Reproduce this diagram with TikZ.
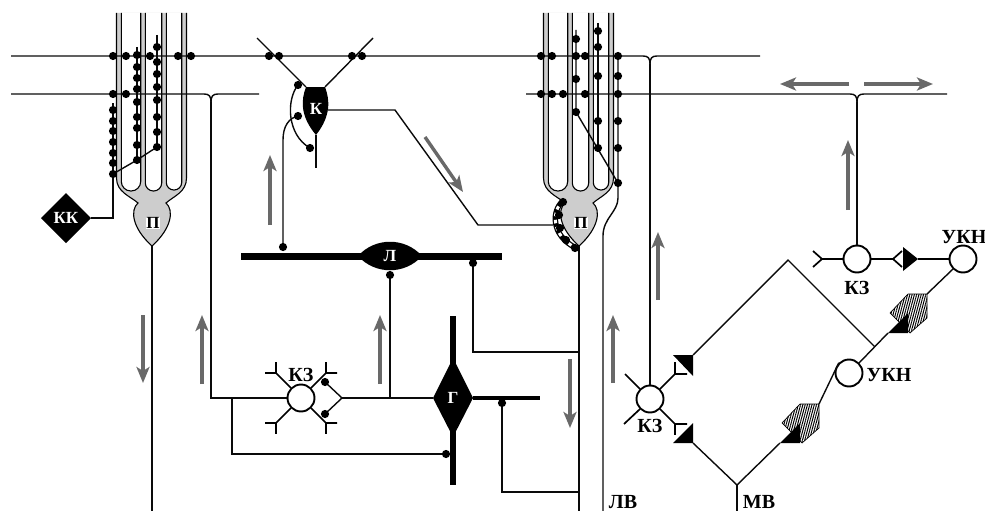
\documentclass[tikz,border=0pt]{standalone}
\usepackage{fontspec}
\setmainfont{Liberation Serif}
\usetikzlibrary{arrows.meta,patterns.meta,shapes.geometric}
\definecolor{ag}{RGB}{105,105,105}
\definecolor{pg}{RGB}{205,205,205}
\definecolor{lc}{RGB}{10,10,10}
\newcommand\purkinjecell[1]{%
\begin{scope}[shift={(#1,0)}]
 \filldraw[fill=pg,draw=black,line width=1.1pt] (-35.5,13) -- (-35.5,178) .. controls (-35.5,192) and (-22,196) .. (-14,203) .. controls (-22,210) and (-20,228) .. (0,246) .. controls (20,228) and (22,210) .. (14,203) .. controls (22,196) and (34.5,192) .. (34.5,178) -- (34.5,13);
 \filldraw[fill=white,draw=black,line width=1.1pt,rounded corners=9.5pt] (-30.7,13) -- (-30.7,191) -- (-11.3,191) -- (-11.3,13);
 \filldraw[fill=white,draw=black,line width=1.1pt,rounded corners=8pt] (-6.7,13) -- (-6.7,191) -- (9.7,191) -- (9.7,13);
 \filldraw[fill=white,draw=black,line width=1.1pt,rounded corners=7.5pt] (14.3,13) -- (14.3,190) -- (29.7,190) -- (29.7,13);
\end{scope}}
\begin{document}
\begin{tikzpicture}[x=1pt,y=-1pt,
 ln/.style={draw=lc,line width=1.4pt},
 ga/.style={draw=ag,line width=3.4pt,-{Stealth[length=16pt,width=13pt,inset=4pt]}},
 dend/.style={draw=black,line width=1.7pt},
 kzc/.style={circle,draw=black,line width=1.9pt,fill=white,minimum size=27pt,inner sep=0pt},
 lab/.style={font=\fontsize{20}{20}\selectfont\bfseries,inner sep=0pt},
 wlab/.style={font=\fontsize{17}{17}\selectfont\bfseries,text=white,inner sep=0pt},
 plab/.style={font=\fontsize{17}{17}\selectfont\bfseries,fill=white,inner sep=0.6pt},
 hatch/.style={pattern={Lines[angle=75,distance=2.2pt,line width=1pt]}}
]
\useasboundingbox (0,0) rectangle (985,511);

% Purkinje cells
\purkinjecell{152}
\purkinjecell{579}

% parallel fibres
\draw[ln] (11,56) -- (643,56) .. controls (648,56) and (650,58) .. (650,64);
\draw[ln] (760,56) -- (657,56) .. controls (652,56) and (650,58) .. (650,64);
\draw[ln] (11,94) -- (204,94) .. controls (209,94) and (211,96) .. (211,102);
\draw[ln] (259,94) -- (218,94) .. controls (213,94) and (211,96) .. (211,102);
\draw[ln] (526,94) -- (850,94) .. controls (855,94) and (857,96) .. (857,102);
\draw[ln] (947,94) -- (864,94) .. controls (859,94) and (857,96) .. (857,102);

% left climbing fibre and KK
\draw[ln] (113,103) -- (113,218) -- (91,218);
\draw[ln] (113,174) -- (137,160) -- (157,147);
\draw[ln] (137,47) -- (137,160);
\draw[ln] (157,35) -- (157,147);
\fill (66,193) -- (91,218) -- (66,243) -- (41,218) -- cycle;
\node[wlab] (kk) at (66,218) {КК};

% axons of Purkinje cells
\draw[ln] (152,246) -- (152,511);
\draw[ln] (579,246) -- (579,511);

% K cell
\draw[ln] (306,87) -- (257,38);
\draw[ln] (325,87) -- (373,38);
\draw[ln] (316,135) -- (316,168);
\draw[ln] (298,85) .. controls (286,100) and (287,135) .. (310,148);
\draw[ln] (298,116) .. controls (289,118) and (283,126) .. (283,140) -- (283,247);
\draw[ln] (328,110) -- (395,110) -- (478,225) -- (553,225);
\fill (306,87) -- (325,87) .. controls (330,100) and (331,116) .. (316,135) .. controls (300,116) and (301,100) .. (306,87) -- cycle;
\node[wlab] (k) at (316,109) {К};

% right climbing fibre
\draw[ln] (618,56) -- (618,198) .. controls (618,212) and (603,218) .. (603,236) -- (603,511);
\draw[ln] (576,30) -- (576,112) -- (618,183);
\draw[ln] (598,23) -- (598,148);

% basket around right soma
\draw[line width=5.5pt] (563,201) .. controls (552,210) and (550,235) .. (576,248);
\draw[line width=3pt,white,dash pattern=on 3.5pt off 3.5pt] (563,201) .. controls (552,210) and (550,235) .. (576,248);

\node[plab] (p1) at (153,223) {П};
\node[plab] (p2) at (581,223) {П};

% L cell
\draw[line width=7pt] (241,256) -- (502,256);
\fill (358,256) .. controls (375,237) and (405,237) .. (422,256) .. controls (405,275) and (375,275) .. (358,256) -- cycle;
\node[wlab] (l) at (390,256) {Л};
\draw[ln] (390,275) -- (390,398);
\draw[ln] (473,263) -- (473,352) -- (579,352);

% G cell
\draw[line width=6pt] (453,316) -- (453,485);
\draw[line width=3.2pt] (473,398) -- (540,398);
\fill (453,358) -- (473,398) -- (453,437) -- (433,398) -- cycle;
\node[wlab] (g) at (453,398) {Г};
\draw[ln] (502,403) -- (502,492) -- (579,492);

% left granule cell
\node[kzc] (kz1) at (301,398) {};
\node[lab] at (301,375) {КЗ};
\draw[ln] (211,102) -- (211,398) -- (kz1.west);
\draw[ln] (232,398) -- (232,454) -- (446,454);
\draw[ln] (325,382) -- (342,398) -- (325,414);
\draw[ln] (342,398) -- (433,398);
\draw[dend] (kz1.135) -- (276,373) -- (265,373); \draw[dend] (276,373) -- (276,362);
\draw[dend] (kz1.45) -- (326,373) -- (337,373); \draw[dend] (326,373) -- (326,362);
\draw[dend] (kz1.225) -- (276,423) -- (265,423); \draw[dend] (276,423) -- (276,434);
\draw[dend] (kz1.315) -- (326,423) -- (337,423); \draw[dend] (326,423) -- (326,434);

% right lower granule cell
\node[kzc] (kz2) at (650,399) {};
\node[lab] at (650,426) {КЗ};
\draw[ln] (650,64) -- (kz2.north);
\draw[dend] (kz2.135) -- (625,374);
\draw[dend] (kz2.225) -- (624,424);
\draw[dend] (kz2.45) -- (675,374) -- (687,374); \draw[dend] (675,374) -- (675,362);
\draw[dend] (kz2.315) -- (675,424) -- (687,424); \draw[dend] (675,424) -- (675,435);
\fill (673,355) -- (693,355) -- (693,376) -- cycle;
\fill (673,443) -- (693,423) -- (693,443) -- cycle;

% mossy fibre net
\coordinate (apex) at (788,260);
\coordinate (mv) at (737,485);
\node[kzc] (ukn2) at (849,373) {};
\node[kzc] (ukn1) at (963,259) {};
\node[kzc] (kz3) at (857,259) {};
\draw[ln] (693,355) -- (apex) -- (875,347);
\draw[ln] (693,443) -- (mv) -- (780,443);
\draw[ln] (mv) -- (737,511);
\draw[ln] (819,404) -- (ukn2.135);
\draw[ln] (ukn2.45) -- (888,333);
\draw[ln] (927,294) -- (ukn1.225);
\filldraw[hatch,draw=black,line width=0.7pt] (782,423) -- (800,404) -- (819,404) -- (819,428) -- (802,443) -- cycle;
\fill (780,443) -- (800,443) -- (800,423) -- cycle;
\filldraw[hatch,draw=black,line width=0.7pt] (890,313) -- (908,294) -- (927,294) -- (927,318) -- (910,333) -- cycle;
\fill (888,333) -- (908,333) -- (908,313) -- cycle;
\node[lab] at (889,375) {УКН};
\node[lab] at (964,237) {УКН};

% right upper granule cell
\node[lab] at (857,288) {КЗ};
\draw[ln] (857,102) -- (kz3.north);
\draw[dend] (813,251) -- (822,259) -- (813,267);
\draw[dend] (822,259) -- (kz3.west);
\draw[dend] (kz3.east) -- (893,259);
\draw[dend] (902,251) -- (893,259) -- (902,267);
\fill (903,247) -- (903,271) -- (918,259) -- cycle;
\draw[dend] (918,259) -- (ukn1.west);

\node[lab] (lv) at (623,502) {ЛВ};
\node[lab] (mvl) at (759,502) {МВ};

% dots
\foreach \p in {(113,56),(126,56),(150,56),(178,56),(191,56),(113,94),(126,94),
 (113,110),(113,121),(113,131),(113,142),(113,153),(113,163),(113,174),
 (137,55),(137,67),(137,78),(137,89),(137,102),(137,117),(137,128),(137,145),(137,160),
 (157,47),(157,62),(157,74),(157,87),(157,100),(157,117),(157,132),(157,147),
 (541,56),(552,56),(576,56),(585,56),(618,56),(541,94),(552,94),(563,94),(585,94),(618,94),
 (576,39),(576,79),(576,112),(598,31),(598,47),(598,76),(598,121),(598,148),
 (618,76),(618,121),(618,148),(618,183),
 (563,202),(559,215),(560,228),(566,240),(575,248),
 (269,56),(279,56),(352,56),(362,56),(298,85),(298,116),(310,148),(283,247),
 (390,275),(473,263),(502,403),(446,454),(325,382),(325,414)}
 \fill \p circle (4.1);

% gray arrows
\draw[ga] (143,315) -- (143,383);
\draw[ga] (202,384) -- (202,315);
\draw[ga] (270,225) -- (270,155);
\draw[ga] (380,384) -- (380,315);
\draw[ga] (425,137) -- (463,192);
\draw[ga] (570,359) -- (570,428);
\draw[ga] (613,383) -- (613,315);
\draw[ga] (658,300) -- (658,232);
\draw[ga] (848,210) -- (848,140);
\draw[ga] (849,84) -- (780,84);
\draw[ga] (864,84) -- (933,84);
\end{tikzpicture}
\end{document}
